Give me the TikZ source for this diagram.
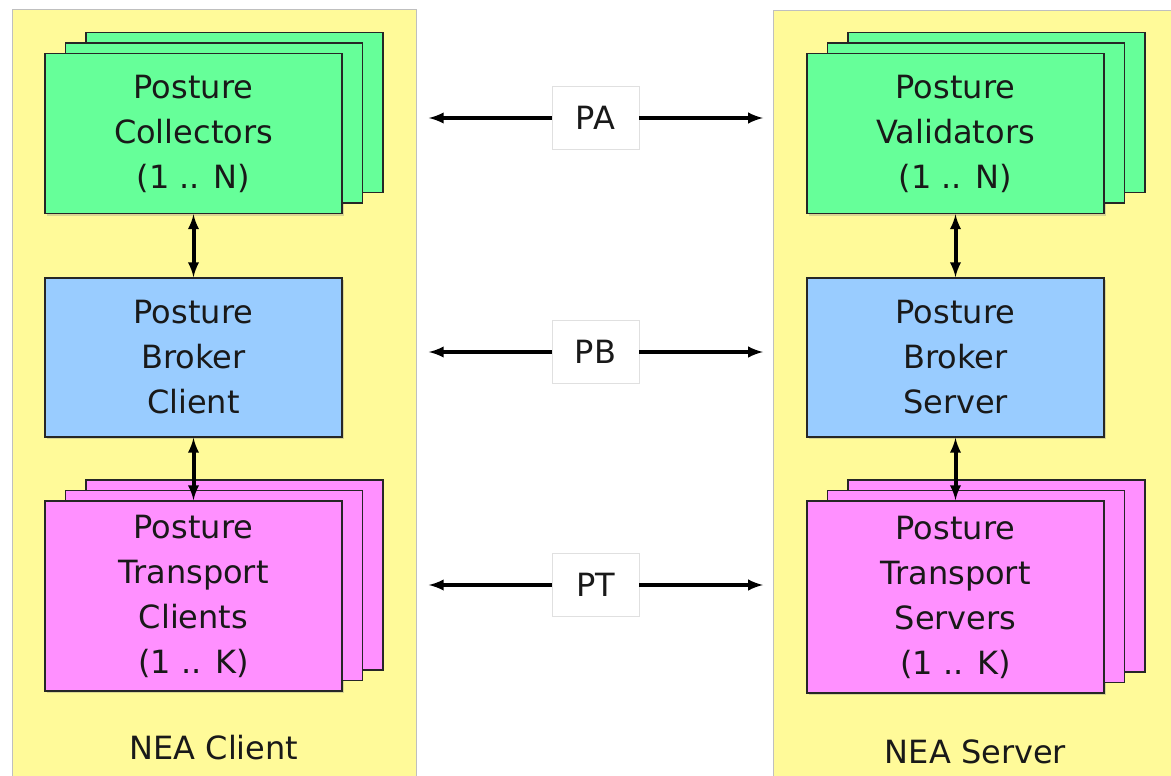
\documentclass[tikz,border=0pt]{standalone}
\usepackage{fontspec}
\setmainfont{DejaVu Sans}
\usetikzlibrary{arrows,shadows}

\definecolor{panelyellow}{HTML}{FFFA99}
\definecolor{pagreen}{HTML}{66FF99}
\definecolor{pbblue}{HTML}{99CCFF}
\definecolor{ptpink}{HTML}{FF90FF}

\begin{document}
\begin{tikzpicture}[x=1pt,y=-1pt,
  every node/.style={font=\fontsize{32}{45}\selectfont, text=black!90},
  panel/.style={draw=black!25, line width=0.8pt, fill=panelyellow, anchor=north west},
  box/.style={draw=black!85, line width=1.8pt, minimum width=297pt, align=center, inner sep=0pt,
    drop shadow={shadow xshift=2pt,shadow yshift=-2pt,opacity=.3}},
  stack/.style={fill=#1,
    copy shadow={fill=#1,draw=black!85,line width=1.8pt,shadow xshift=41pt,shadow yshift=21pt},
    copy shadow={fill=#1,draw=black!85,line width=1.8pt,shadow xshift=20.5pt,shadow yshift=10.5pt}},
  proto/.style={draw=black!12, fill=white, minimum width=87pt, minimum height=63pt, inner sep=0pt},
  arr/.style={latex-latex, line width=4pt}]

\fill[white] (0,0) rectangle (1171,776);
\useasboundingbox (0,0) rectangle (1171,776);

% the two sides
\node[panel, minimum width=404pt, minimum height=767pt] (client) at (12,9) {};
\node[panel, minimum width=400pt, minimum height=766pt] (server) at (773,10) {};

% NEA client
\node[box, stack=pagreen, minimum height=160pt] (collectors) at (193.5,133.5) {Posture\\Collectors\\(1 .. N)};
\node[box, fill=pbblue, minimum height=159pt] (brokerc) at (193.5,357.5) {Posture\\Broker\\Client};
\node[box, stack=ptpink, minimum height=190pt] (transportc) at (193.5,596) {Posture\\Transport\\Clients\\(1 .. K)};
\node (clientlbl) at (214,748) {NEA Client};

% NEA server
\node[box, stack=pagreen, minimum height=160pt] (validators) at (955.5,133.5) {Posture\\Validators\\(1 .. N)};
\node[box, fill=pbblue, minimum height=159pt] (brokers) at (955.5,357.5) {Posture\\Broker\\Server};
\node[box, stack=ptpink, minimum height=192pt] (transports) at (955.5,597) {Posture\\Transport\\Servers\\(1 .. K)};
\node (serverlbl) at (975.5,752) {NEA Server};

\draw[arr] (collectors) -- (brokerc);
\draw[arr] (brokerc) -- (transportc);
\draw[arr] (validators) -- (brokers);
\draw[arr] (brokers) -- (transports);

% protocols
\foreach \p/\y in {PA/118,PB/352,PT/585}{
  \node[proto] (\p) at (595.5,\y) {\p};
  \coordinate (\p-l) at ([xshift=12pt]\p.west -| client.east);
  \coordinate (\p-r) at ([xshift=-10pt]\p.east -| server.west);
  \draw[line width=4pt,-latex] (\p.west) -- (\p-l);
  \draw[line width=4pt,-latex] (\p.east) -- (\p-r);
}

\end{tikzpicture}
\end{document}
